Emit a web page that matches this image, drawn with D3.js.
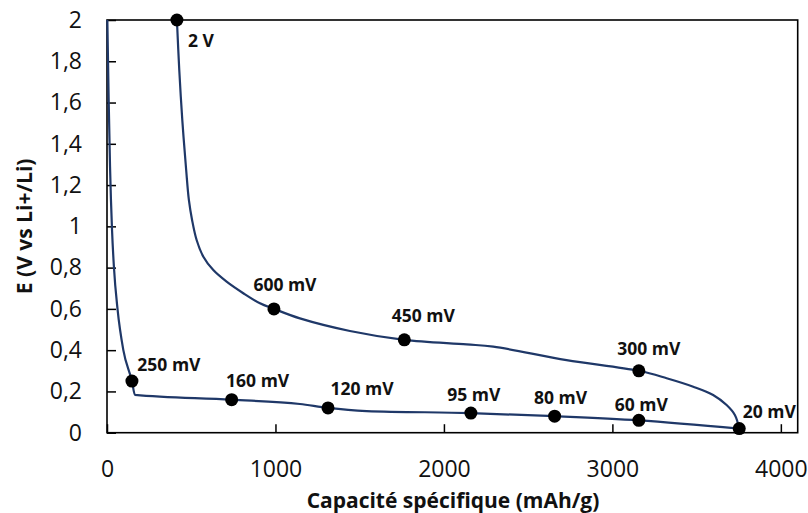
<!DOCTYPE html>
<html>
<head>
<meta charset="utf-8">
<script src="https://cdn.jsdelivr.net/npm/d3@7/dist/d3.min.js"></script>
<style>
  html, body { margin: 0; padding: 0; background: #fff; }
  svg { display: block; }
</style>
</head>
<body>
<svg id="chart" width="808" height="513"></svg>
<script>
// ---- Data ----
const upperCapacity = [415, 429, 447, 470, 486, 505, 532, 572, 631, 710, 809, 908, 991, 1145, 1442, 1765, 2135, 2293, 2728, 3157, 3322, 3480, 3598, 3678, 3727, 3753];
const upperVoltage  = [2.0, 1.758, 1.515, 1.273, 1.128, 1.031, 0.934, 0.853, 0.788, 0.732, 0.676, 0.627, 0.6, 0.554, 0.493, 0.45, 0.428, 0.417, 0.352, 0.3, 0.264, 0.223, 0.183, 0.134, 0.086, 0.02];

const lowerCapacity = [2, 10, 18, 30, 41, 63, 97, 148, 166, 740, 1145, 1312, 1541, 2160, 2657, 3157, 3753];
const lowerVoltage  = [2.0, 1.61, 1.29, 0.98, 0.804, 0.595, 0.40, 0.25, 0.183, 0.16, 0.139, 0.12, 0.105, 0.095, 0.08, 0.06, 0.02];

const markerCapacity = [415, 991, 1765, 3157, 3753, 148, 740, 1312, 2160, 2657, 3157];
const markerVoltage  = [2.0, 0.6, 0.45, 0.3, 0.02, 0.25, 0.16, 0.12, 0.095, 0.08, 0.06];
const markerLabels   = ["2 V", "600 mV", "450 mV", "300 mV", "20 mV", "250 mV", "160 mV", "120 mV", "95 mV", "80 mV", "60 mV"];

const xTicks = [0, 1000, 2000, 3000, 4000];
const yTicks = [0, 0.2, 0.4, 0.6, 0.8, 1, 1.2, 1.4, 1.6, 1.8, 2];

const xTitle = "Capacité spécifique (mAh/g)";
const yTitle = "E (V vs Li+/Li)";

// ---- Layout (label offsets in px relative to each marker) ----
const labelOffsets = [[24, 27], [11, -18], [19, -18], [10, -16], [30, -10.5], [37, -10], [26, -13], [34, -13], [3, -12], [6, -12], [2.5, -9]];

const W = 808, H = 513;
const margin = { top: 20, right: 10.3, bottom: 80.3, left: 107 };
const iw = W - margin.left - margin.right;
const ih = H - margin.top - margin.bottom;
const lineColor = "#1f3868";
const font = "'Open Sans', sans-serif";

const svg = d3.select("#chart");
const g = svg.append("g").attr("transform", `translate(${margin.left},${margin.top})`);

const x = d3.scaleLinear().domain([0, 4100]).range([0, iw]);
const y = d3.scaleLinear().domain([0, 2]).range([ih, 0]);

const fmt = v => String(+v.toFixed(1)).replace(".", ",");

// Axes
const yAxis = g.append("g")
  .call(d3.axisLeft(y).tickValues(yTicks).tickSize(-9).tickPadding(25).tickFormat(fmt));
const xAxis = g.append("g").attr("transform", `translate(0,${ih})`)
  .call(d3.axisBottom(x).tickValues(xTicks).tickSize(-8.5).tickPadding(28).tickFormat(d3.format("d")));

[yAxis, xAxis].forEach(a => {
  a.select(".domain").remove();
  a.selectAll(".tick line").attr("stroke", "#000").attr("stroke-width", 1.5);
  a.selectAll(".tick text").attr("fill", "#111").style("font-family", font).style("font-size", "23px");
});

// Frame
g.append("rect").attr("x", 0).attr("y", 0).attr("width", iw).attr("height", ih)
  .attr("fill", "none").attr("stroke", "#000").attr("stroke-width", 1.6);

// Lines
const upperLine = d3.line().x(d => x(d[0])).y(d => y(d[1])).curve(d3.curveCatmullRom.alpha(0.5));
const lowerLine = d3.line().x(d => x(d[0])).y(d => y(d[1])).curve(d3.curveMonotoneX);
const upper = upperCapacity.map((c, i) => [c, upperVoltage[i]]);
const lower = lowerCapacity.map((c, i) => [c, lowerVoltage[i]]);

g.append("path").datum(lower).attr("d", lowerLine)
  .attr("fill", "none").attr("stroke", lineColor).attr("stroke-width", 2.2);
g.append("path").datum(upper).attr("d", upperLine)
  .attr("fill", "none").attr("stroke", lineColor).attr("stroke-width", 2.2);

// Markers
const markers = markerCapacity.map((c, i) => ({ c, v: markerVoltage[i], label: markerLabels[i], off: labelOffsets[i] }));
g.selectAll("circle.m").data(markers).join("circle")
  .attr("class", "m")
  .attr("cx", d => x(d.c)).attr("cy", d => y(d.v)).attr("r", 6.5).attr("fill", "#000");

g.selectAll("text.lbl").data(markers).join("text")
  .attr("class", "lbl")
  .attr("x", d => x(d.c) + d.off[0]).attr("y", d => y(d.v) + d.off[1])
  .attr("text-anchor", "middle")
  .style("font-family", font).style("font-size", "17.5px").style("font-weight", "bold")
  .attr("fill", "#111")
  .text(d => d.label);

// Titles
svg.append("text")
  .attr("x", 453).attr("y", 508)
  .attr("text-anchor", "middle")
  .style("font-family", font).style("font-size", "21px").style("font-weight", "bold")
  .attr("fill", "#111")
  .text(xTitle);

svg.append("text")
  .attr("transform", `translate(32,${margin.top + ih / 2}) rotate(-90)`)
  .attr("text-anchor", "middle")
  .style("font-family", font).style("font-size", "21px").style("font-weight", "bold")
  .attr("fill", "#111")
  .text(yTitle);
</script>
</body>
</html>
